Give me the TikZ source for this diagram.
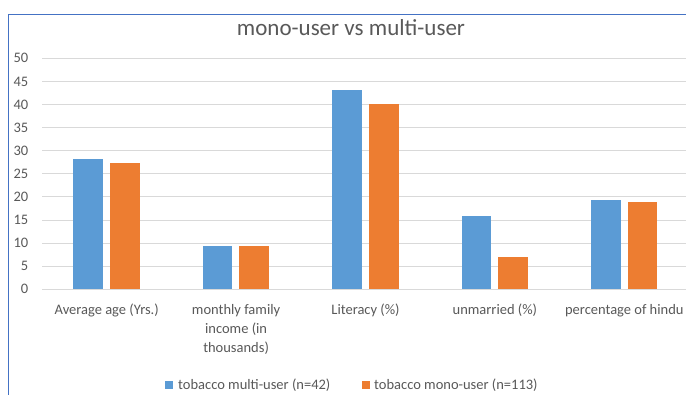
\documentclass[tikz,border=0pt]{standalone}
\usepackage{fontspec}
\setmainfont{Carlito}
\definecolor{barblue}{HTML}{5B9BD5}
\definecolor{barorange}{HTML}{ED7D31}
\definecolor{gridgray}{HTML}{D9D9D9}
\definecolor{txtgray}{HTML}{595959}
\definecolor{frameblue}{HTML}{4472C4}
\begin{document}
\begin{tikzpicture}[x=1pt,y=-1pt,
  tick/.style={anchor=east,font=\fontsize{14.5}{17}\selectfont,text=txtgray,inner sep=0pt},
  cat/.style={anchor=north,align=center,font=\fontsize{14.5}{19}\selectfont,text=txtgray,inner sep=0pt},
  legtext/.style={anchor=base west,font=\fontsize{14.5}{17}\selectfont,text=txtgray,inner sep=0pt},
  gridline/.style={draw=gridgray,line width=1pt},
  bluebar/.style={fill=barblue,draw=none},
  orangebar/.style={fill=barorange,draw=none}]
\useasboundingbox (0,0) rectangle (686,394);
\fill[white] (0,0) rectangle (686,394);
% frame
\draw[frameblue,line width=1.5pt] (8.7,400) -- (8.7,14.5) -- (690,14.5);
% title
\node[anchor=base,font=\fontsize{23}{27}\selectfont,text=txtgray,inner sep=0pt] (title) at (351,35) {mono-user vs multi-user};
% grid and ticks
\foreach \v in {0,5,...,50}{
  \draw[gridline] (42,{289.3-4.62*\v}) -- (690,{289.3-4.62*\v});
  \node[tick] (t\v) at (28.5,{289.3-4.62*\v}) {\v};
}
% bars
\foreach \c/\a/\b [count=\i] in {106.7/28.1/27.3, 236.1/9.35/9.35, 365.5/43.2/40.2, 494.9/15.9/7.05, 624.3/19.4/18.95}{
  \fill[bluebar] ({\c-33.4},289.3) rectangle ({\c-3.7},{289.3-4.62*\a});
  \fill[orangebar] ({\c+3.3},289.3) rectangle ({\c+33},{289.3-4.62*\b});
}
% category labels
\node[cat] (c1) at (106.7,304) {Average age (Yrs.)};
\node[cat] (c2) at (236.1,304) {monthly family\\income (in\\thousands)};
\node[cat] (c3) at (365.5,304) {Literacy (\%)};
\node[cat] (c4) at (494.9,304) {unmarried (\%)};
\node[cat] (c5) at (624.3,304) {percentage of hindu};
% legend
\fill[barblue] (164.5,381) rectangle (172.5,389);
\node[legtext] (l1) at (178,389.5) {tobacco multi-user (n=42)};
\fill[barorange] (361.5,381) rectangle (369.5,389);
\node[legtext] (l2) at (374,389.5) {tobacco mono-user (n=113)};
\end{tikzpicture}
\end{document}
